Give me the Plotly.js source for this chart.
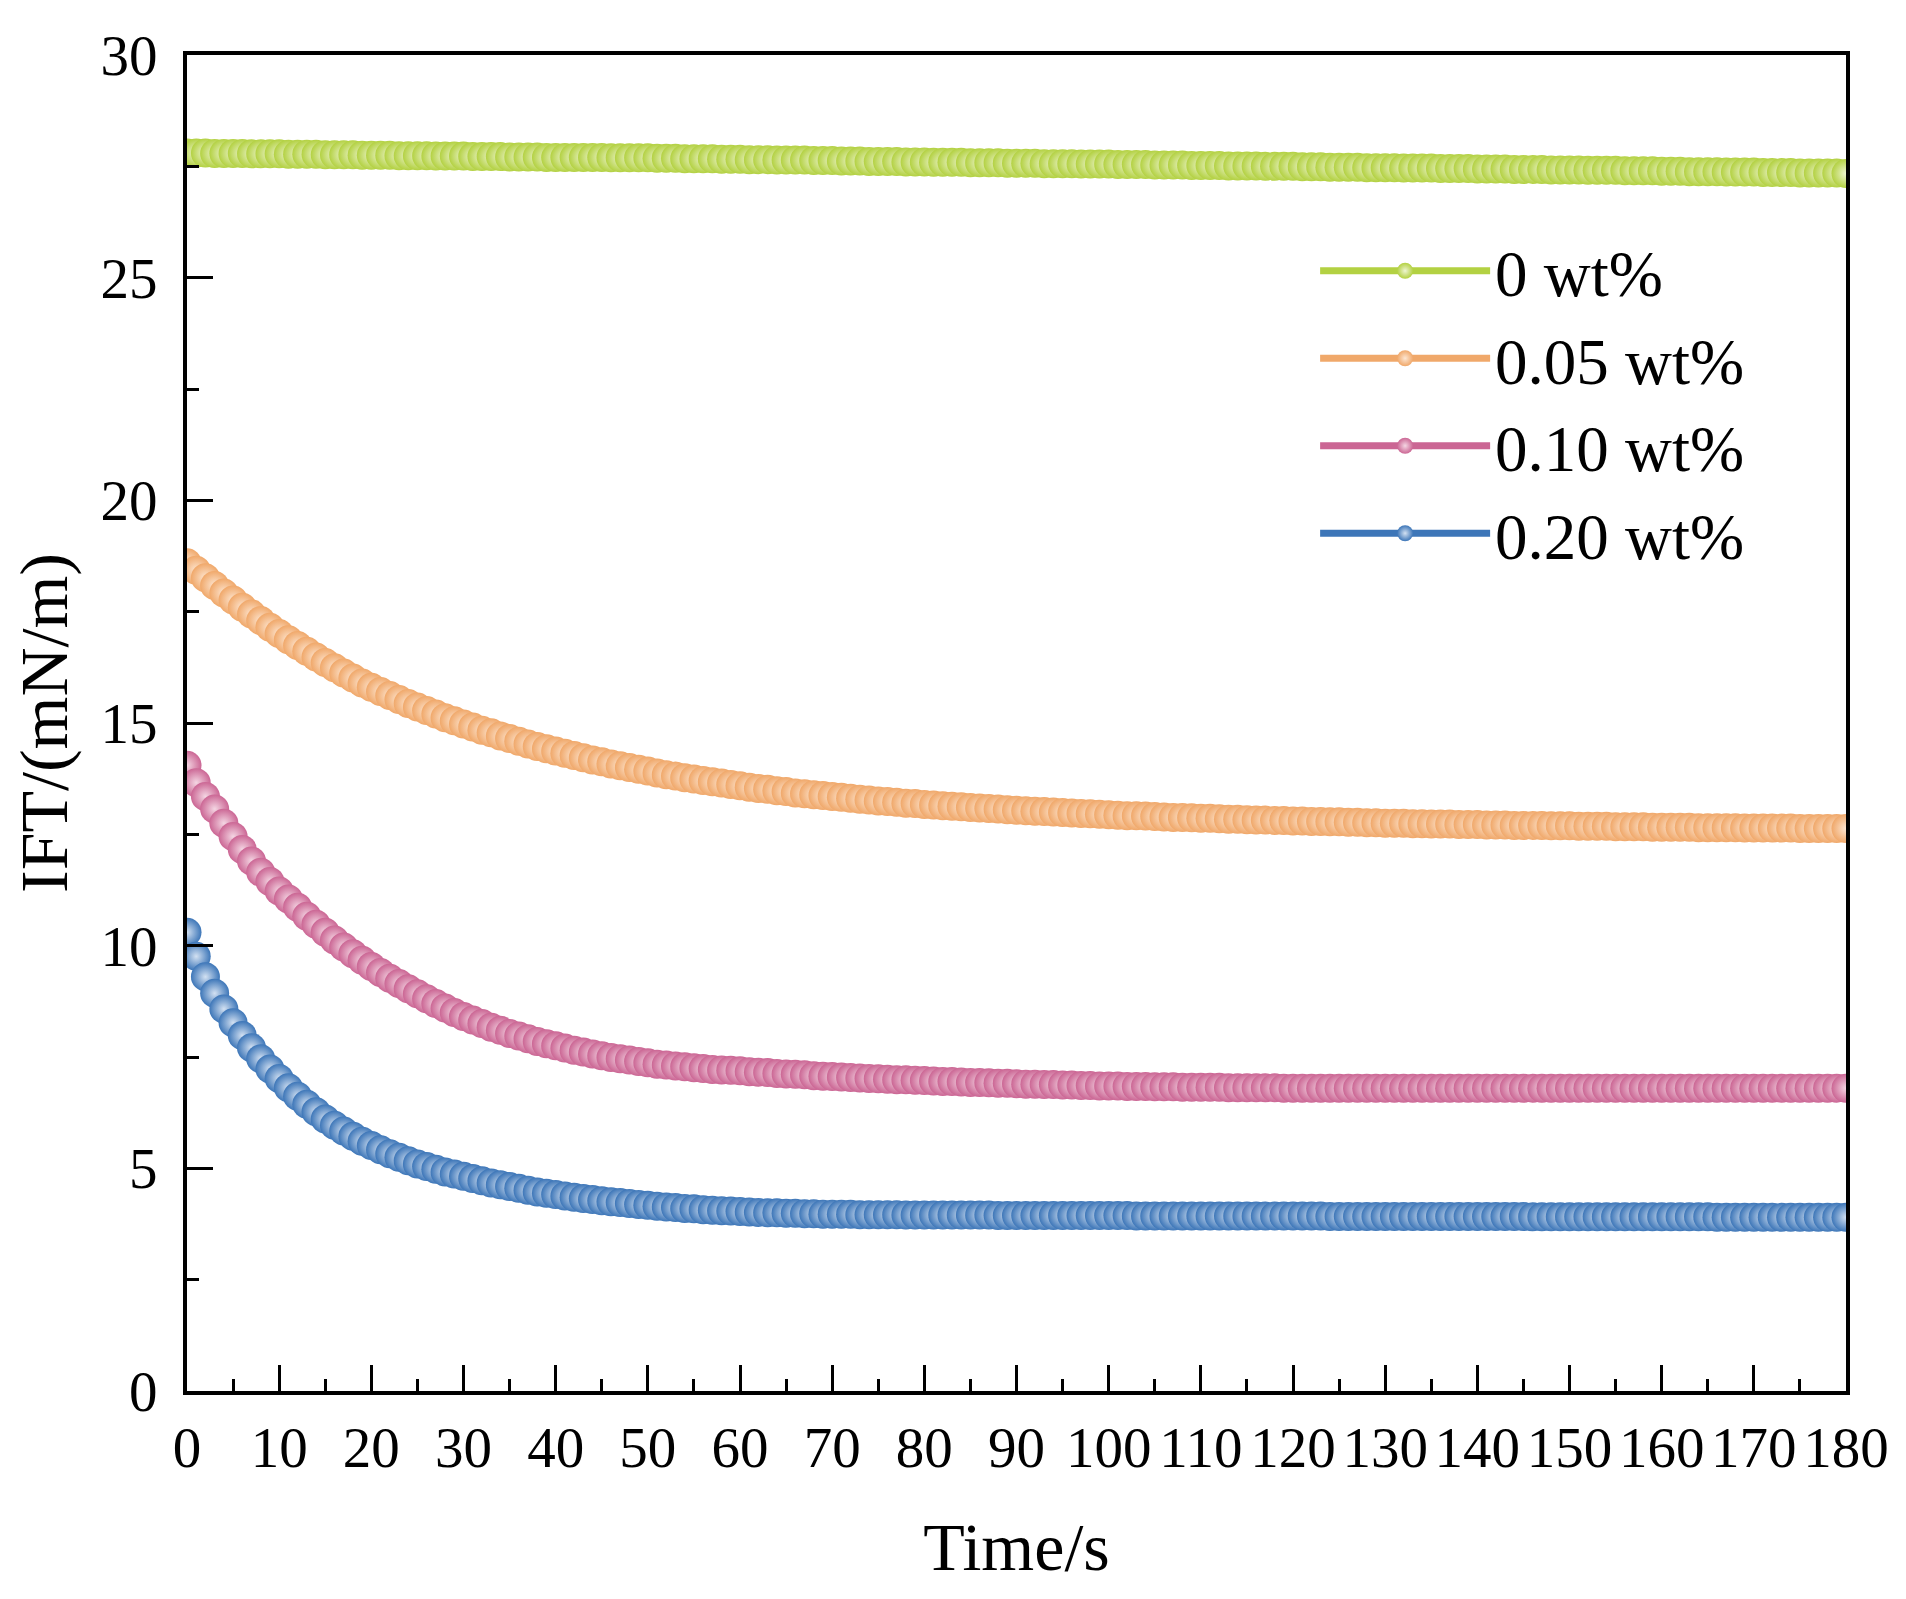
<!DOCTYPE html>
<html>
<head>
<meta charset="utf-8">
<script src="https://cdn.plot.ly/plotly-3.0.1.min.js"></script>
<style>
  html, body { margin: 0; padding: 0; background: #fff; }
  #chart { width: 1906px; height: 1599px; }
</style>
</head>
<body>
<div id="chart"></div>
<script>
// time axis, s
const TIME = [
  0, 1, 2, 3, 4, 5, 6, 7, 8, 9, 10, 11, 12, 13, 14, 15, 16, 17, 18, 19, 20,
  21, 22, 23, 24, 25, 26, 27, 28, 29, 30, 31, 32, 33, 34, 35, 36, 37, 38, 39, 40,
  41, 42, 43, 44, 45, 46, 47, 48, 49, 50, 51, 52, 53, 54, 55, 56, 57, 58, 59, 60,
  61, 62, 63, 64, 65, 66, 67, 68, 69, 70, 71, 72, 73, 74, 75, 76, 77, 78, 79, 80,
  81, 82, 83, 84, 85, 86, 87, 88, 89, 90, 91, 92, 93, 94, 95, 96, 97, 98, 99, 100,
  101, 102, 103, 104, 105, 106, 107, 108, 109, 110, 111, 112, 113, 114, 115, 116, 117, 118, 119, 120,
  121, 122, 123, 124, 125, 126, 127, 128, 129, 130, 131, 132, 133, 134, 135, 136, 137, 138, 139, 140,
  141, 142, 143, 144, 145, 146, 147, 148, 149, 150, 151, 152, 153, 154, 155, 156, 157, 158, 159, 160,
  161, 162, 163, 164, 165, 166, 167, 168, 169, 170, 171, 172, 173, 174, 175, 176, 177, 178, 179, 180
];

// IFT, mN/m - 0 wt%
const IFT_0 = [
  27.80, 27.80, 27.80, 27.79, 27.79, 27.79, 27.79, 27.78, 27.78, 27.78, 27.78,
  27.77, 27.77, 27.77, 27.77, 27.76, 27.76, 27.76, 27.76, 27.75, 27.75,
  27.75, 27.75, 27.74, 27.74, 27.74, 27.74, 27.73, 27.73, 27.73, 27.73,
  27.72, 27.72, 27.72, 27.72, 27.71, 27.71, 27.71, 27.71, 27.70, 27.70,
  27.70, 27.70, 27.70, 27.70, 27.70, 27.69, 27.69, 27.69, 27.69, 27.69,
  27.68, 27.68, 27.68, 27.67, 27.67, 27.67, 27.67, 27.66, 27.66, 27.66,
  27.65, 27.65, 27.65, 27.64, 27.64, 27.64, 27.64, 27.63, 27.63, 27.63,
  27.62, 27.62, 27.62, 27.61, 27.61, 27.61, 27.61, 27.60, 27.60, 27.60,
  27.59, 27.59, 27.59, 27.59, 27.58, 27.58, 27.58, 27.58, 27.57, 27.57,
  27.57, 27.57, 27.56, 27.56, 27.56, 27.56, 27.55, 27.55, 27.55, 27.55,
  27.54, 27.54, 27.54, 27.54, 27.53, 27.53, 27.53, 27.53, 27.52, 27.52,
  27.52, 27.52, 27.51, 27.51, 27.51, 27.51, 27.50, 27.50, 27.50, 27.50,
  27.49, 27.49, 27.49, 27.48, 27.48, 27.48, 27.48, 27.47, 27.47, 27.47,
  27.47, 27.46, 27.46, 27.46, 27.46, 27.45, 27.45, 27.45, 27.45, 27.44,
  27.44, 27.44, 27.44, 27.43, 27.43, 27.43, 27.43, 27.42, 27.42, 27.42,
  27.42, 27.41, 27.41, 27.41, 27.41, 27.40, 27.40, 27.40, 27.40, 27.39,
  27.39, 27.39, 27.38, 27.38, 27.38, 27.38, 27.37, 27.37, 27.37, 27.37,
  27.36, 27.36, 27.36, 27.36, 27.35, 27.35, 27.35, 27.35, 27.35, 27.34
];

// 0.05 wt%
const IFT_005 = [
  18.60, 18.43, 18.26, 18.09, 17.92, 17.76, 17.60, 17.45, 17.30, 17.15, 17.01,
  16.87, 16.74, 16.61, 16.48, 16.36, 16.24, 16.12, 16.01, 15.90, 15.80,
  15.71, 15.62, 15.53, 15.44, 15.36, 15.28, 15.20, 15.12, 15.05, 14.98,
  14.91, 14.84, 14.78, 14.71, 14.65, 14.59, 14.53, 14.47, 14.42, 14.37,
  14.32, 14.27, 14.22, 14.17, 14.13, 14.08, 14.04, 14.00, 13.96, 13.92,
  13.88, 13.84, 13.81, 13.77, 13.74, 13.71, 13.68, 13.65, 13.62, 13.59,
  13.56, 13.53, 13.51, 13.48, 13.46, 13.43, 13.41, 13.39, 13.37, 13.35,
  13.33, 13.31, 13.29, 13.27, 13.25, 13.24, 13.22, 13.20, 13.19, 13.17,
  13.16, 13.14, 13.13, 13.12, 13.10, 13.09, 13.08, 13.07, 13.05, 13.04,
  13.03, 13.02, 13.01, 13.00, 12.99, 12.98, 12.97, 12.96, 12.95, 12.94,
  12.93, 12.92, 12.92, 12.91, 12.90, 12.89, 12.88, 12.88, 12.87, 12.86,
  12.86, 12.85, 12.84, 12.84, 12.83, 12.82, 12.82, 12.81, 12.81, 12.80,
  12.80, 12.79, 12.79, 12.78, 12.78, 12.77, 12.77, 12.76, 12.76, 12.75,
  12.75, 12.75, 12.74, 12.74, 12.73, 12.73, 12.73, 12.72, 12.72, 12.72,
  12.71, 12.71, 12.71, 12.70, 12.70, 12.70, 12.70, 12.69, 12.69, 12.69,
  12.68, 12.68, 12.68, 12.68, 12.67, 12.67, 12.67, 12.67, 12.66, 12.66,
  12.66, 12.66, 12.66, 12.65, 12.65, 12.65, 12.65, 12.65, 12.64, 12.64,
  12.64, 12.64, 12.64, 12.64, 12.63, 12.63, 12.63, 12.63, 12.63, 12.63
];

// 0.10 wt%
const IFT_010 = [
  14.05, 13.66, 13.35, 13.07, 12.75, 12.45, 12.16, 11.90, 11.65, 11.44, 11.23,
  11.05, 10.86, 10.66, 10.48, 10.30, 10.13, 9.97, 9.82, 9.67, 9.53,
  9.40, 9.27, 9.15, 9.03, 8.92, 8.81, 8.70, 8.60, 8.50, 8.41,
  8.33, 8.25, 8.17, 8.10, 8.03, 7.97, 7.91, 7.85, 7.80, 7.75,
  7.70, 7.65, 7.61, 7.57, 7.53, 7.49, 7.46, 7.43, 7.40, 7.37,
  7.34, 7.32, 7.30, 7.28, 7.26, 7.24, 7.22, 7.21, 7.20, 7.19,
  7.17, 7.16, 7.15, 7.13, 7.12, 7.11, 7.10, 7.08, 7.07, 7.06,
  7.05, 7.04, 7.03, 7.02, 7.01, 7.00, 6.99, 6.99, 6.98, 6.97,
  6.96, 6.95, 6.95, 6.94, 6.93, 6.93, 6.92, 6.91, 6.91, 6.90,
  6.89, 6.89, 6.88, 6.88, 6.87, 6.87, 6.86, 6.86, 6.85, 6.85,
  6.85, 6.84, 6.84, 6.84, 6.83, 6.83, 6.83, 6.82, 6.82, 6.82,
  6.82, 6.82, 6.81, 6.81, 6.81, 6.81, 6.81, 6.81, 6.80, 6.80,
  6.80, 6.80, 6.80, 6.80, 6.80, 6.80, 6.80, 6.80, 6.80, 6.80,
  6.80, 6.80, 6.80, 6.80, 6.80, 6.80, 6.80, 6.80, 6.80, 6.80,
  6.80, 6.80, 6.80, 6.80, 6.80, 6.80, 6.80, 6.80, 6.80, 6.80,
  6.80, 6.80, 6.80, 6.80, 6.80, 6.80, 6.80, 6.80, 6.80, 6.80,
  6.80, 6.80, 6.80, 6.80, 6.80, 6.80, 6.80, 6.80, 6.80, 6.80,
  6.80, 6.80, 6.80, 6.80, 6.80, 6.80, 6.80, 6.80, 6.80, 6.80
];

// 0.20 wt%
const IFT_020 = [
  10.30, 9.76, 9.30, 8.93, 8.58, 8.27, 7.98, 7.71, 7.46, 7.23, 7.02,
  6.81, 6.62, 6.44, 6.27, 6.11, 5.97, 5.84, 5.72, 5.61, 5.51,
  5.42, 5.33, 5.25, 5.17, 5.10, 5.04, 4.98, 4.92, 4.87, 4.82,
  4.77, 4.72, 4.67, 4.63, 4.59, 4.55, 4.51, 4.47, 4.44, 4.41,
  4.38, 4.35, 4.32, 4.30, 4.27, 4.25, 4.23, 4.21, 4.19, 4.17,
  4.15, 4.13, 4.12, 4.10, 4.09, 4.07, 4.06, 4.05, 4.04, 4.03,
  4.02, 4.01, 4.00, 4.00, 3.99, 3.99, 3.98, 3.98, 3.97, 3.97,
  3.97, 3.97, 3.96, 3.96, 3.96, 3.96, 3.96, 3.95, 3.95, 3.95,
  3.95, 3.95, 3.95, 3.95, 3.95, 3.95, 3.95, 3.94, 3.94, 3.94,
  3.94, 3.94, 3.94, 3.94, 3.94, 3.94, 3.94, 3.94, 3.94, 3.94,
  3.94, 3.94, 3.93, 3.93, 3.93, 3.93, 3.93, 3.93, 3.93, 3.93,
  3.93, 3.93, 3.93, 3.93, 3.93, 3.93, 3.93, 3.93, 3.93, 3.93,
  3.93, 3.93, 3.93, 3.92, 3.92, 3.92, 3.92, 3.92, 3.92, 3.92,
  3.92, 3.92, 3.92, 3.92, 3.92, 3.92, 3.92, 3.92, 3.92, 3.92,
  3.92, 3.92, 3.92, 3.92, 3.92, 3.91, 3.91, 3.91, 3.91, 3.91,
  3.91, 3.91, 3.91, 3.91, 3.91, 3.91, 3.91, 3.91, 3.91, 3.91,
  3.91, 3.91, 3.91, 3.91, 3.91, 3.90, 3.90, 3.90, 3.90, 3.90,
  3.90, 3.90, 3.90, 3.90, 3.90, 3.90, 3.90, 3.90, 3.90, 3.90
];

const NAMES = ['0 wt%', '0.05 wt%', '0.10 wt%', '0.20 wt%'];
const VALUES = [IFT_0, IFT_005, IFT_010, IFT_020];
const COLORS = ['#b3d142', '#f0a86a', '#cb6694', '#3d76b8'];
const SHINE = ['#eef5d2', '#fde6d2', '#f4d6e3', '#d3e1f2'];

const FONT = 'Liberation Serif, Times New Roman, serif';

const traces = NAMES.map((name, i) => ({
  x: TIME, y: VALUES[i], name, type: 'scatter', mode: 'lines+markers',
  line: { color: COLORS[i], width: 7 },
  marker: {
    color: COLORS[i], size: 29, line: { width: 0 },
    gradient: { type: 'radial', color: SHINE[i] },
  },
}));

const axisBase = {
  showline: true, linecolor: '#000', linewidth: 4, mirror: true,
  ticks: 'inside', ticklen: 26, tickwidth: 3, tickcolor: '#000',
  showgrid: false, zeroline: false, automargin: false,
  tickfont: { family: FONT, size: 57, color: '#000' },
};

const layout = {
  width: 1906, height: 1599,
  margin: { l: 187, r: 60, t: 55, b: 208 },
  paper_bgcolor: '#fff', plot_bgcolor: '#fff',
  font: { family: FONT, color: '#000' },
  showlegend: true,
  legend: {
    x: 0.68, y: 0.875, xanchor: 'left', yanchor: 'top',
    bgcolor: 'rgba(0,0,0,0)', borderwidth: 0,
    font: { family: FONT, size: 65, color: '#000' },
    itemwidth: 170, tracegroupgap: 0,
  },
  xaxis: {
    ...axisBase, range: [0, 180], tick0: 0, dtick: 10,
    minor: { dtick: 5, ticks: 'inside', ticklen: 12, tickwidth: 3, tickcolor: '#000' },
    ticklabelstandoff: 4,
    title: { text: 'Time/s', standoff: 45, font: { family: FONT, size: 68, color: '#000' } },
  },
  yaxis: {
    ...axisBase, range: [0, 30], tick0: 0, dtick: 5,
    minor: { dtick: 2.5, ticks: 'inside', ticklen: 12, tickwidth: 3, tickcolor: '#000' },
    ticklabelstandoff: 14,
    title: { text: 'IFT/(mN/m)', standoff: 12, font: { family: FONT, size: 68, color: '#000' } },
  },
};

Plotly.newPlot('chart', traces, layout, { displayModeBar: false, staticPlot: true });
</script>
</body>
</html>
